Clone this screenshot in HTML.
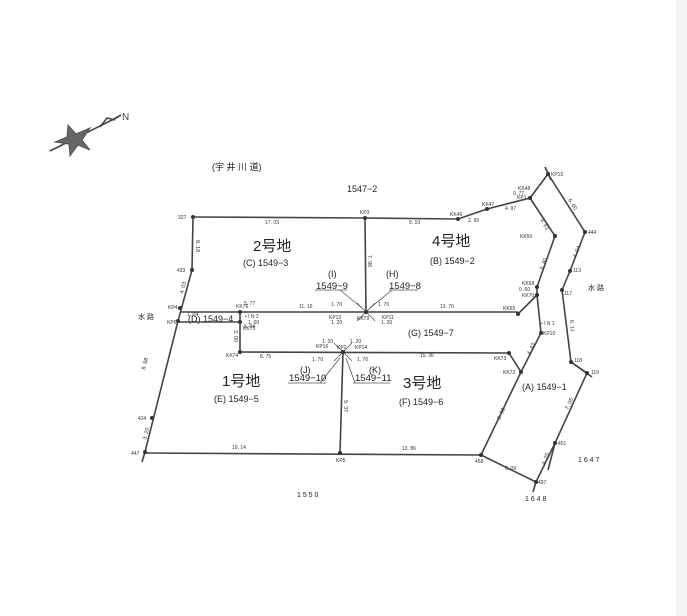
<!DOCTYPE html><html><head><style>body{margin:0;background:#fff}svg{display:block}</style></head><body>
<svg width="687" height="616" viewBox="0 0 687 616" xmlns="http://www.w3.org/2000/svg" font-family="Liberation Sans, Noto Sans CJK JP, sans-serif">
<rect width="687" height="616" fill="#fff"/>
<rect x="676" y="0" width="11" height="616" fill="#f4f4f4"/>
<g stroke="#444" stroke-width="1.6" fill="none">
<line x1="50" y1="151" x2="118" y2="117"/>
<polygon points="68,125 76,134 90,128 82,140 90,150 78,145 70,156 69,144 55,142 67,137" fill="#666" stroke="#555" stroke-width="1"/>
<path d="M100,127 l7,-9 l8,2 M114,119 l7,-4"/>
<polyline points="193,217 365,218 458,219 487,209 530,198 548,174"/>
<polyline points="530,198 555,236 537,287 537,295 541,333 521,372 481,455 536,482 555,443 587,373"/>
<polyline points="548,174 585,232 570,271 562,290 571,362 587,373"/>
<line x1="545" y1="167" x2="551" y2="180"/>
<line x1="571" y1="362" x2="592" y2="377"/>
<line x1="555" y1="443" x2="548" y2="470"/>
<line x1="536" y1="482" x2="533" y2="492"/>
<line x1="537" y1="295" x2="518" y2="314"/>
<polyline points="193,217 192,270 178,321 145,452 142,462"/>
<line x1="180" y1="312" x2="518" y2="312"/>
<line x1="178" y1="322" x2="240" y2="322"/>
<line x1="240" y1="312" x2="240" y2="352"/>
<line x1="240" y1="352" x2="509" y2="353"/>
<line x1="509" y1="353" x2="521" y2="372"/>
<line x1="145" y1="453" x2="481" y2="455"/>
<line x1="365" y1="218" x2="366" y2="312"/>
<line x1="343" y1="352" x2="340" y2="453"/>
</g>
<g stroke="#555" stroke-width="0.8" fill="none">
<polyline points="357,303 366,312 375,303"/><polyline points="357,321 366,312 375,321"/>
<polyline points="334,343 343,352 352,343"/><polyline points="334,361 343,352 352,361"/>
<line x1="340" y1="290" x2="362" y2="308"/><line x1="392" y1="290" x2="370" y2="308"/>
<line x1="320" y1="383" x2="340" y2="358"/><line x1="355" y1="383" x2="346" y2="358"/>
<line x1="315" y1="290" x2="347" y2="290"/><line x1="389" y1="290" x2="418" y2="290"/>
<line x1="288" y1="383" x2="326" y2="383"/><line x1="353" y1="383" x2="390" y2="383"/>
<line x1="187" y1="322" x2="237" y2="322"/>
</g>
<g fill="#333">
<circle cx="193" cy="217" r="2"/><circle cx="365" cy="218" r="2"/><circle cx="458" cy="219" r="2"/><circle cx="487" cy="209" r="2"/><circle cx="530" cy="198" r="2"/><circle cx="548" cy="174" r="2"/><circle cx="555" cy="236" r="2"/><circle cx="585" cy="232" r="2"/><circle cx="570" cy="271" r="2"/><circle cx="562" cy="290" r="2"/><circle cx="537" cy="287" r="2"/><circle cx="537" cy="295" r="2"/><circle cx="518" cy="314" r="2"/><circle cx="541" cy="333" r="2"/><circle cx="571" cy="362" r="2"/><circle cx="587" cy="373" r="2"/><circle cx="509" cy="353" r="2"/><circle cx="521" cy="372" r="2"/><circle cx="555" cy="443" r="2"/><circle cx="481" cy="455" r="2"/><circle cx="536" cy="482" r="2"/><circle cx="192" cy="270" r="2"/><circle cx="180" cy="308" r="2"/><circle cx="178" cy="321" r="2"/><circle cx="240" cy="312" r="2"/><circle cx="240" cy="322" r="2"/><circle cx="240" cy="352" r="2"/><circle cx="366" cy="312" r="2"/><circle cx="343" cy="352" r="2"/><circle cx="340" cy="453" r="2"/><circle cx="152" cy="418" r="2"/><circle cx="145" cy="452" r="2"/>
</g>
<g font-size="5" fill="#333">
<text x="178" y="219">327</text><text x="360" y="214">KP3</text><text x="177" y="272">433</text><text x="168" y="309">KP4</text><text x="167" y="324">KP6</text><text x="138" y="420">434</text><text x="131" y="455">447</text><text x="336" y="462">KP5</text>
<text x="236" y="308">KK76</text><text x="243" y="330">KK75</text><text x="226" y="357">KK74</text><text x="245" y="318">• I N 2</text><text x="248" y="324">1. 00</text>
<text x="450" y="216">KK46</text><text x="482" y="206">KK47</text><text x="518" y="190">KK48</text><text x="513" y="195">0. 77</text><text x="517" y="199">KP1</text><text x="551" y="176">KP15</text><text x="588" y="234">444</text><text x="573" y="272">113</text><text x="564" y="295">117</text><text x="520" y="238">KK50</text><text x="522" y="285">KK68</text><text x="519" y="291">0. 60</text><text x="522" y="297">KK70</text><text x="503" y="310">KK65</text><text x="543" y="335">KP10</text><text x="541" y="325">• I N 1</text><text x="574" y="362">118</text><text x="591" y="374">119</text><text x="494" y="360">KK73</text><text x="503" y="374">KK72</text><text x="558" y="445">451</text><text x="475" y="463">458</text><text x="538" y="484">497</text>
<text x="244" y="305">5. 77</text><text x="244" y="328">5. 04</text><text x="187" y="316">1. 04</text><text x="299" y="308">11. 16</text><text x="440" y="308">13. 70</text><text x="260" y="358">8. 75</text><text x="420" y="357">15. 36</text><text x="265" y="224">17. 03</text><text x="409" y="224">9. 10</text><text x="468" y="222">2. 99</text><text x="505" y="210">4. 97</text><text x="232" y="449">19. 14</text><text x="402" y="450">13. 86</text><text x="505" y="470">6. 09</text>
<text x="331" y="306">1. 70</text><text x="378" y="306">1. 70</text><text x="331" y="324">1. 20</text><text x="381" y="324">1. 20</text><text x="329" y="319">KP13</text><text x="357" y="320">KK79</text><text x="382" y="319">KP11</text>
<text x="322" y="343">1. 20</text><text x="350" y="343">1. 20</text><text x="316" y="348">KP16</text><text x="337" y="349">KP2</text><text x="355" y="349">KP14</text><text x="312" y="361">1. 70</text><text x="357" y="361">1. 70</text>
</g>
<g font-size="5.5" fill="#333">
<text transform="translate(196,240) rotate(90)">8. 18</text><text transform="translate(368,255) rotate(90)">7. 96</text><text transform="translate(344,400) rotate(90)">9. 37</text><text transform="translate(234,330) rotate(90)">3. 00</text><text transform="translate(145,370) rotate(-75)">8. 88</text><text transform="translate(146,440) rotate(-75)">3. 20</text><text transform="translate(183,294) rotate(-75)">4. 03</text>
<text transform="translate(540,220) rotate(60)">4. 61</text><text transform="translate(543,270) rotate(-70)">5. 40</text><text transform="translate(568,200) rotate(58)">6. 60</text><text transform="translate(576,258) rotate(-68)">4. 04</text><text transform="translate(570,320) rotate(85)">6. 11</text><text transform="translate(530,355) rotate(-65)">4. 43</text><text transform="translate(500,420) rotate(-65)">8. 68</text><text transform="translate(568,410) rotate(-65)">7. 05</text><text transform="translate(545,465) rotate(-70)">4. 25</text>
</g>
<g font-size="9" fill="#222">
<text x="328" y="277">(I)</text><text x="386" y="277">(H)</text>
<text x="316" y="289" font-size="9.5">1549−9</text><text x="389" y="289" font-size="9.5">1549−8</text>
<text x="300" y="373">(J)</text><text x="369" y="373">(K)</text>
<text x="289" y="381" font-size="9.5">1549−10</text><text x="355" y="381" font-size="9.5">1549−11</text>
<text x="188" y="322" font-size="9">(D) 1549−4</text>
<text x="408" y="336">(G) 1549−7</text>
<text x="243" y="266">(C) 1549−3</text><text x="430" y="264">(B) 1549−2</text>
<text x="214" y="402">(E) 1549−5</text><text x="399" y="405">(F) 1549−6</text>
<text x="522" y="390">(A) 1549−1</text>
<text x="347" y="192">1547−2</text><text x="212" y="170">(宇 井 川 道)</text>
<text x="138" y="319" font-size="7">水 路</text><text x="588" y="290" font-size="7">水 路</text>
<text x="297" y="497" font-size="7">1 5 5 0</text><text x="578" y="462" font-size="7">1 6 4 7</text><text x="525" y="501" font-size="7">1 6 4 8</text>
</g>
<text x="122" y="120" font-size="10" fill="#444">N</text>
<g font-size="15" fill="#222">
<text x="253" y="251">2号地</text><text x="432" y="246">4号地</text><text x="222" y="386">1号地</text><text x="403" y="388">3号地</text>
</g>
</svg></body></html>
